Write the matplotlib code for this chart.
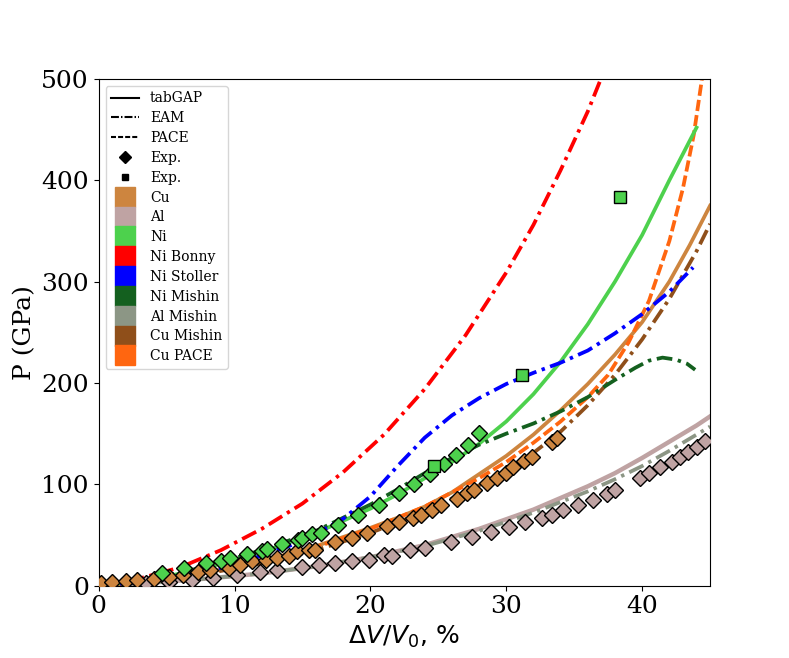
import matplotlib
matplotlib.use('Agg')
import matplotlib.pyplot as plt
from matplotlib.lines import Line2D

plt.rcParams['font.family'] = 'DejaVu Serif'

# model curves (dV/V0 in %, P in GPa)
ni_x = [0, 4, 8, 12, 16, 20, 22, 24, 26, 28, 30, 32, 34, 36, 38, 40, 42, 44]
ni_p = [0, 6, 18, 33, 52, 76, 90, 106, 122, 140, 162, 189, 221, 258, 300, 346, 400, 452]

cu_x = [0, 4, 8, 12, 16, 20, 22, 24, 26, 28, 30, 32, 34, 36, 38, 40, 42, 43.5, 45]
cu_p = [0, 5, 13, 24, 39, 57, 67, 78, 92, 110, 128, 149, 173, 199, 228, 260, 300, 336, 375]

al_x = [0, 4, 8, 12, 16, 20, 24, 28, 32, 36, 38, 40, 42, 44, 45]
al_p = [0, 3, 7, 12, 19, 28, 40, 56, 75, 98, 111, 126, 142, 158, 167]

bonny_x = [0, 3, 6, 9, 12, 15, 18, 21, 24, 27, 30, 32, 34, 36, 37.2]
bonny_p = [0, 7, 18, 35, 56, 81, 112, 149, 194, 247, 309, 356, 410, 468, 508]

stoller_x = [0, 4, 8, 11, 14, 16, 18, 20, 22, 24, 26, 28, 30, 32, 34, 36, 38, 40, 42, 43.75]
stoller_p = [0, 5, 14, 25, 39, 51, 66, 88, 118, 146, 168, 185, 199, 210, 220, 232, 249, 268, 290, 314]

nimishin_x = [0, 4, 8, 12, 16, 20, 22, 24, 26, 28, 30, 32, 34, 36, 38, 39.5, 40.5, 41.5, 42.5, 43.3, 43.9]
nimishin_p = [0, 7, 19, 35, 54, 80, 95, 111, 126, 139, 150, 160, 172, 186, 203, 215, 222, 225, 223, 219, 213]

almishin_x = [0, 4, 8, 12, 16, 20, 24, 28, 32, 36, 38, 40, 42, 44, 45]
almishin_p = [0, 3, 7, 12, 19, 28, 39, 54, 72, 93, 105, 118, 133, 149, 157]

cumishin_x = [0, 4, 8, 12, 16, 20, 24, 28, 30, 32, 34, 36, 38, 40, 42, 44, 45]
cumishin_p = [0, 4, 12, 22, 35, 52, 73, 99, 115, 131, 152, 178, 208, 243, 283, 330, 357]

cupace_x = [0, 4, 8, 12, 16, 20, 24, 28, 30, 32, 34, 36, 37.5, 39, 40.5, 42, 43, 43.8, 44.4]
cupace_p = [0, 5, 13, 24, 38, 56, 78, 106, 122, 141, 162, 186, 208, 240, 281, 340, 392, 445, 500]

# experiments
exp_ni_x = [4.7, 6.3, 7.9, 9.0, 9.7, 10.9, 12.0, 12.4, 13.5, 14.7, 15.0, 15.7, 16.4,
            17.6, 19.1, 20.6, 22.1, 23.2, 24.4, 25.4, 26.3, 27.2, 28.0]
exp_ni_p = [12, 17, 22, 24, 27, 31, 34, 36, 41, 45, 47, 51, 52,
            60, 70, 80, 91, 100, 110, 120, 129, 139, 151]

exp_ni_sq_x = [24.7, 31.15, 38.4]
exp_ni_sq_p = [118, 208, 384]

exp_cu_x = [0.15, 1.0, 2.0, 2.8, 4.1, 5.2, 6.2, 7.3, 8.2, 9.6, 10.4, 11.3, 12.3, 13.1,
            14.0, 14.6, 15.5, 15.9, 17.4, 18.65, 19.75, 21.2, 22.1, 23.1, 23.7, 24.5,
            25.2, 26.4, 27.1, 27.6, 28.6, 29.3, 30.0, 30.5, 31.3, 31.9, 33.4, 33.7]
exp_cu_p = [3, 4, 5, 6, 7, 8.6, 10.9, 13, 15.8, 17.5, 20.8, 24, 25.7, 27.3,
            29.6, 34, 35.6, 35.6, 42.8, 47, 52, 58.6, 62.6, 67, 70, 74.4,
            79.4, 85, 91, 94, 101.5, 106.4, 110.7, 117.3, 122.8, 126.8, 141.6, 146]

exp_al_x = [3.5, 5.2, 6.9, 8.4, 10.2, 11.9, 13.1, 15.0, 16.2, 17.4, 18.65, 19.9, 21.0,
            21.6, 22.9, 24.0, 25.9, 27.5, 28.9, 30.2, 31.4, 32.6, 33.4, 34.2, 35.3,
            36.4, 37.4, 38.0, 39.85, 40.5, 41.3, 42.2, 42.8, 43.4, 44.0, 44.6]
exp_al_p = [3, 4, 6, 8, 10.9, 13.2, 15.2, 18.5, 20.8, 22.4, 24, 25.7, 30.6,
            29.6, 35.6, 37.2, 42.8, 48, 52.7, 58, 62.6, 67, 70, 74.4, 79.4,
            84.3, 90, 94, 106.4, 110.7, 117.3, 122.2, 127.2, 131.7, 137, 142.6]

c_cu = '#cd853f'
c_al = '#bfa3a3'
c_ni = '#4dd14d'
c_bonny = '#ff0000'
c_stoller = '#0000ff'
c_nimishin = '#14601f'
c_almishin = '#8c9685'
c_cumishin = '#8f4f1a'
c_cupace = '#ff6610'

dd = (4.2, 1.5, 0.9, 1.5)   # dash-dot pattern (in units of linewidth)
ds = (3.0, 1.1)             # dashed pattern

fig, ax = plt.subplots(figsize=(7.89, 6.58), dpi=100)

lw = 2.7
ax.plot(al_x, al_p, '-', color=c_al, lw=3.2, zorder=2)
ax.plot(almishin_x, almishin_p, color=c_almishin, lw=lw, dashes=dd, zorder=2)
ax.plot(cu_x, cu_p, '-', color=c_cu, lw=lw, zorder=2)
ax.plot(cupace_x, cupace_p, color=c_cupace, lw=lw, dashes=ds, zorder=2)
ax.plot(cumishin_x, cumishin_p, color=c_cumishin, lw=lw, dashes=dd, zorder=2)
ax.plot(ni_x, ni_p, '-', color=c_ni, lw=lw, zorder=2)
ax.plot(nimishin_x, nimishin_p, color=c_nimishin, lw=lw, dashes=dd, zorder=2)
ax.plot(stoller_x, stoller_p, color=c_stoller, lw=lw, dashes=dd, zorder=2)
ax.plot(bonny_x, bonny_p, color=c_bonny, lw=lw, dashes=dd, zorder=2)

ax.plot(exp_al_x, exp_al_p, 'D', color=c_al, mec='k', mew=1, ms=8, ls='', zorder=3)
ax.plot(exp_cu_x, exp_cu_p, 'D', color=c_cu, mec='k', mew=1, ms=8, ls='', zorder=3)
ax.plot(exp_ni_x, exp_ni_p, 'D', color=c_ni, mec='k', mew=1, ms=8, ls='', zorder=3)
ax.plot(exp_ni_sq_x, exp_ni_sq_p, 's', color=c_ni, mec='k', mew=1, ms=8, ls='', zorder=3)

ax.set_xlim(0, 45)
ax.set_ylim(0, 500)
ax.tick_params(labelsize=18)
ax.set_ylabel('P (GPa)', fontsize=18)
ax.set_xlabel(r'$\Delta V/V_0$, %', fontsize=18, family='DejaVu Sans')

handles = [
    Line2D([], [], color='k', ls='-', lw=1.5, label='tabGAP'),
    Line2D([], [], color='k', lw=1.5, dashes=(3.8, 1.0, 0.7, 1.0), label='EAM'),
    Line2D([], [], color='k', lw=1.5, dashes=(2.4, 1.0), label='PACE'),
    Line2D([], [], color='k', marker='D', ls='', ms=6, label='Exp.'),
    Line2D([], [], color='k', marker='s', ls='', ms=5, label='Exp.'),
]
for c, name in [(c_cu, 'Cu'), (c_al, 'Al'), (c_ni, 'Ni'), (c_bonny, 'Ni Bonny'),
                (c_stoller, 'Ni Stoller'), (c_nimishin, 'Ni Mishin'),
                (c_almishin, 'Al Mishin'), (c_cumishin, 'Cu Mishin'),
                (c_cupace, 'Cu PACE')]:
    handles.append(Line2D([], [], color=c, marker='s', ls='', ms=14, label=name))
ax.legend(handles=handles, loc='upper left', fontsize=10, labelspacing=0.42)

plt.savefig('out.png')
